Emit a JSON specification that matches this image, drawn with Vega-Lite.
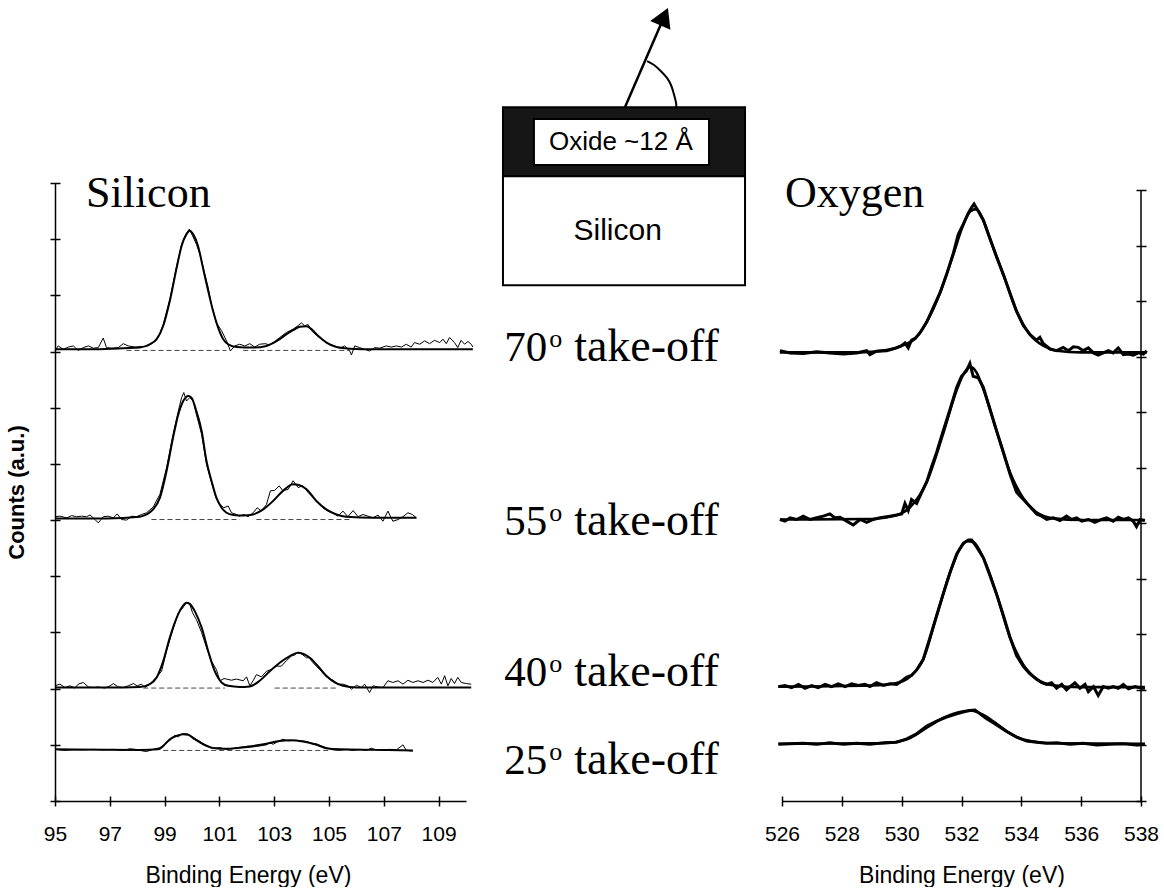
{
  "$schema": "https://vega.github.io/schema/vega-lite/v6.json",
  "autosize": "pad",
  "padding": {"left": 5, "top": 7, "right": 0, "bottom": 0},
  "background": "white",
  "spacing": 0,
  "bounds": "flush",
  "config": {
    "view": {"stroke": null},
    "axis": {
      "grid": false,
      "domainColor": "black",
      "tickColor": "black",
      "labelColor": "black",
      "titleColor": "black",
      "domainWidth": 1.5,
      "tickWidth": 1.5,
      "labelFont": "Liberation Sans",
      "titleFont": "Liberation Sans",
      "labelFlush": false
    }
  },
  "resolve": {"scale": {"x": "independent", "y": "independent"}},
  "datasets": {
    "si_data": [
      {"angle":70,"energy":95.00,"counts":8.02},{"angle":70,"energy":95.12,"counts":8.10},{"angle":70,"energy":95.30,"counts":8.04},{"angle":70,"energy":95.49,"counts":8.08},{"angle":70,"energy":95.67,"counts":8.10},{"angle":70,"energy":95.85,"counts":8.02},{"angle":70,"energy":96.03,"counts":8.07},{"angle":70,"energy":96.22,"counts":8.10},{"angle":70,"energy":96.40,"counts":8.06},{"angle":70,"energy":96.58,"counts":8.07},{"angle":70,"energy":96.76,"counts":8.24},{"angle":70,"energy":96.88,"counts":8.07},{"angle":70,"energy":97.07,"counts":8.06},{"angle":70,"energy":97.31,"counts":8.07},{"angle":70,"energy":97.49,"counts":8.14},{"angle":70,"energy":97.67,"counts":8.10},{"angle":70,"energy":97.92,"counts":8.08},{"angle":70,"energy":98.16,"counts":8.09},{"angle":70,"energy":98.40,"counts":8.10},{"angle":70,"energy":98.58,"counts":8.16},{"angle":70,"energy":98.77,"counts":8.25},{"angle":70,"energy":98.95,"counts":8.48},{"angle":70,"energy":99.19,"counts":8.93},{"angle":70,"energy":99.44,"counts":9.52},{"angle":70,"energy":99.62,"counts":9.91},{"angle":70,"energy":99.78,"counts":10.09},{"angle":70,"energy":99.90,"counts":10.18},{"angle":70,"energy":100.02,"counts":10.06},{"angle":70,"energy":100.16,"counts":9.91},{"angle":70,"energy":100.29,"counts":9.73},{"angle":70,"energy":100.47,"counts":9.37},{"angle":70,"energy":100.59,"counts":9.14},{"angle":70,"energy":100.71,"counts":8.84},{"angle":70,"energy":100.89,"counts":8.51},{"angle":70,"energy":101.08,"counts":8.37},{"angle":70,"energy":101.26,"counts":8.19},{"angle":70,"energy":101.40,"counts":8.01},{"angle":70,"energy":101.56,"counts":8.10},{"angle":70,"energy":101.74,"counts":8.13},{"angle":70,"energy":101.93,"counts":8.10},{"angle":70,"energy":102.11,"counts":8.14},{"angle":70,"energy":102.29,"counts":8.08},{"angle":70,"energy":102.47,"counts":8.13},{"angle":70,"energy":102.66,"counts":8.14},{"angle":70,"energy":102.84,"counts":8.12},{"angle":70,"energy":103.02,"counts":8.18},{"angle":70,"energy":103.20,"counts":8.25},{"angle":70,"energy":103.45,"counts":8.34},{"angle":70,"energy":103.69,"counts":8.40},{"angle":70,"energy":103.87,"counts":8.46},{"angle":70,"energy":103.99,"counts":8.51},{"angle":70,"energy":104.11,"counts":8.46},{"angle":70,"energy":104.24,"counts":8.48},{"angle":70,"energy":104.36,"counts":8.37},{"angle":70,"energy":104.54,"counts":8.29},{"angle":70,"energy":104.78,"counts":8.20},{"angle":70,"energy":105.03,"counts":8.13},{"angle":70,"energy":105.21,"counts":8.10},{"angle":70,"energy":105.39,"counts":8.06},{"angle":70,"energy":105.57,"counts":8.10},{"angle":70,"energy":105.75,"counts":8.02},{"angle":70,"energy":105.82,"counts":7.94},{"angle":70,"energy":105.94,"counts":8.10},{"angle":70,"energy":106.12,"counts":8.07},{"angle":70,"energy":106.30,"counts":8.04},{"angle":70,"energy":106.48,"counts":8.01},{"angle":70,"energy":106.67,"counts":8.07},{"angle":70,"energy":106.85,"counts":8.06},{"angle":70,"energy":107.09,"counts":8.10},{"angle":70,"energy":107.27,"counts":8.08},{"angle":70,"energy":107.46,"counts":8.10},{"angle":70,"energy":107.64,"counts":8.08},{"angle":70,"energy":107.82,"counts":8.13},{"angle":70,"energy":108.00,"counts":8.08},{"angle":70,"energy":108.12,"counts":8.16},{"angle":70,"energy":108.31,"counts":8.13},{"angle":70,"energy":108.49,"counts":8.19},{"angle":70,"energy":108.67,"counts":8.14},{"angle":70,"energy":108.85,"counts":8.20},{"angle":70,"energy":109.04,"counts":8.16},{"angle":70,"energy":109.16,"counts":8.22},{"angle":70,"energy":109.28,"counts":8.14},{"angle":70,"energy":109.40,"counts":8.25},{"angle":70,"energy":109.58,"counts":8.16},{"angle":70,"energy":109.70,"counts":8.07},{"angle":70,"energy":109.82,"counts":8.20},{"angle":70,"energy":109.95,"counts":8.13},{"angle":70,"energy":110.07,"counts":8.18},{"angle":70,"energy":110.19,"counts":8.13},{"angle":70,"energy":110.25,"counts":8.08},
      {"angle":55,"energy":95.00,"counts":5.06},{"angle":55,"energy":95.18,"counts":5.07},{"angle":55,"energy":95.43,"counts":5.04},{"angle":55,"energy":95.61,"counts":5.08},{"angle":55,"energy":95.79,"counts":5.06},{"angle":55,"energy":95.97,"counts":5.07},{"angle":55,"energy":96.15,"counts":5.06},{"angle":55,"energy":96.28,"counts":5.09},{"angle":55,"energy":96.46,"counts":5.01},{"angle":55,"energy":96.58,"counts":4.95},{"angle":55,"energy":96.76,"counts":5.06},{"angle":55,"energy":96.94,"counts":5.07},{"angle":55,"energy":97.13,"counts":5.04},{"angle":55,"energy":97.27,"counts":5.11},{"angle":55,"energy":97.43,"counts":5.01},{"angle":55,"energy":97.61,"counts":5.00},{"angle":55,"energy":97.80,"counts":5.07},{"angle":55,"energy":97.98,"counts":5.06},{"angle":55,"energy":98.16,"counts":5.10},{"angle":55,"energy":98.34,"counts":5.13},{"angle":55,"energy":98.58,"counts":5.23},{"angle":55,"energy":98.83,"counts":5.46},{"angle":55,"energy":99.07,"counts":5.93},{"angle":55,"energy":99.31,"counts":6.53},{"angle":55,"energy":99.50,"counts":6.94},{"angle":55,"energy":99.62,"counts":7.18},{"angle":55,"energy":99.70,"counts":7.27},{"angle":55,"energy":99.80,"counts":7.12},{"angle":55,"energy":99.92,"counts":7.18},{"angle":55,"energy":100.04,"counts":7.12},{"angle":55,"energy":100.16,"counts":6.88},{"angle":55,"energy":100.35,"counts":6.53},{"angle":55,"energy":100.53,"counts":5.99},{"angle":55,"energy":100.71,"counts":5.67},{"angle":55,"energy":100.87,"counts":5.40},{"angle":55,"energy":101.02,"counts":5.28},{"angle":55,"energy":101.16,"counts":5.22},{"angle":55,"energy":101.32,"counts":5.25},{"angle":55,"energy":101.44,"counts":5.13},{"angle":55,"energy":101.62,"counts":5.10},{"angle":55,"energy":101.74,"counts":5.07},{"angle":55,"energy":101.89,"counts":5.10},{"angle":55,"energy":102.05,"counts":5.06},{"angle":55,"energy":102.23,"counts":5.13},{"angle":55,"energy":102.38,"counts":5.22},{"angle":55,"energy":102.53,"counts":5.16},{"angle":55,"energy":102.72,"counts":5.28},{"angle":55,"energy":102.86,"counts":5.52},{"angle":55,"energy":103.02,"counts":5.53},{"angle":55,"energy":103.18,"counts":5.61},{"angle":55,"energy":103.32,"counts":5.52},{"angle":55,"energy":103.51,"counts":5.55},{"angle":55,"energy":103.69,"counts":5.70},{"angle":55,"energy":103.87,"counts":5.58},{"angle":55,"energy":104.05,"counts":5.61},{"angle":55,"energy":104.24,"counts":5.49},{"angle":55,"energy":104.42,"counts":5.40},{"angle":55,"energy":104.60,"counts":5.31},{"angle":55,"energy":104.78,"counts":5.22},{"angle":55,"energy":104.96,"counts":5.16},{"angle":55,"energy":105.15,"counts":5.13},{"angle":55,"energy":105.33,"counts":5.07},{"angle":55,"energy":105.51,"counts":5.16},{"angle":55,"energy":105.69,"counts":5.06},{"angle":55,"energy":105.88,"counts":5.17},{"angle":55,"energy":106.06,"counts":5.06},{"angle":55,"energy":106.24,"counts":5.10},{"angle":55,"energy":106.42,"counts":5.07},{"angle":55,"energy":106.61,"counts":5.04},{"angle":55,"energy":106.79,"counts":5.09},{"angle":55,"energy":106.97,"counts":4.98},{"angle":55,"energy":107.15,"counts":5.16},{"angle":55,"energy":107.33,"counts":4.98},{"angle":55,"energy":107.52,"counts":5.01},{"angle":55,"energy":107.70,"counts":5.06},{"angle":55,"energy":107.88,"counts":5.13},{"angle":55,"energy":108.04,"counts":5.10},{"angle":55,"energy":108.19,"counts":5.04},
      {"angle":40,"energy":95.00,"counts":2.05},{"angle":40,"energy":95.18,"counts":2.08},{"angle":40,"energy":95.36,"counts":2.02},{"angle":40,"energy":95.55,"counts":2.05},{"angle":40,"energy":95.73,"counts":2.01},{"angle":40,"energy":95.85,"counts":2.08},{"angle":40,"energy":96.03,"counts":2.11},{"angle":40,"energy":96.22,"counts":2.03},{"angle":40,"energy":96.40,"counts":2.02},{"angle":40,"energy":96.58,"counts":2.03},{"angle":40,"energy":96.82,"counts":2.01},{"angle":40,"energy":97.01,"counts":2.05},{"angle":40,"energy":97.13,"counts":2.09},{"angle":40,"energy":97.31,"counts":2.03},{"angle":40,"energy":97.49,"counts":2.02},{"angle":40,"energy":97.67,"counts":2.05},{"angle":40,"energy":97.86,"counts":2.09},{"angle":40,"energy":98.00,"counts":2.05},{"angle":40,"energy":98.16,"counts":2.08},{"angle":40,"energy":98.28,"counts":2.02},{"angle":40,"energy":98.46,"counts":2.08},{"angle":40,"energy":98.71,"counts":2.21},{"angle":40,"energy":98.89,"counts":2.31},{"angle":40,"energy":99.07,"counts":2.67},{"angle":40,"energy":99.31,"counts":3.06},{"angle":40,"energy":99.50,"counts":3.35},{"angle":40,"energy":99.62,"counts":3.41},{"angle":40,"energy":99.80,"counts":3.53},{"angle":40,"energy":99.92,"counts":3.50},{"angle":40,"energy":100.02,"counts":3.35},{"angle":40,"energy":100.16,"counts":3.23},{"angle":40,"energy":100.35,"counts":3.00},{"angle":40,"energy":100.53,"counts":2.73},{"angle":40,"energy":100.71,"counts":2.49},{"angle":40,"energy":100.89,"counts":2.34},{"angle":40,"energy":101.02,"counts":2.14},{"angle":40,"energy":101.17,"counts":2.18},{"angle":40,"energy":101.26,"counts":2.17},{"angle":40,"energy":101.44,"counts":2.15},{"angle":40,"energy":101.62,"counts":2.17},{"angle":40,"energy":101.87,"counts":2.14},{"angle":40,"energy":101.99,"counts":2.21},{"angle":40,"energy":102.11,"counts":2.05},{"angle":40,"energy":102.23,"counts":2.14},{"angle":40,"energy":102.35,"counts":2.25},{"angle":40,"energy":102.53,"counts":2.21},{"angle":40,"energy":102.72,"counts":2.31},{"angle":40,"energy":102.90,"counts":2.34},{"angle":40,"energy":103.08,"counts":2.40},{"angle":40,"energy":103.26,"counts":2.40},{"angle":40,"energy":103.45,"counts":2.50},{"angle":40,"energy":103.63,"counts":2.58},{"angle":40,"energy":103.75,"counts":2.60},{"angle":40,"energy":103.87,"counts":2.65},{"angle":40,"energy":103.99,"counts":2.62},{"angle":40,"energy":104.18,"counts":2.55},{"angle":40,"energy":104.27,"counts":2.55},{"angle":40,"energy":104.42,"counts":2.46},{"angle":40,"energy":104.66,"counts":2.34},{"angle":40,"energy":104.90,"counts":2.21},{"angle":40,"energy":105.15,"counts":2.15},{"angle":40,"energy":105.33,"counts":2.08},{"angle":40,"energy":105.51,"counts":2.08},{"angle":40,"energy":105.69,"counts":2.05},{"angle":40,"energy":105.82,"counts":1.99},{"angle":40,"energy":106.00,"counts":2.06},{"angle":40,"energy":106.18,"counts":2.02},{"angle":40,"energy":106.30,"counts":2.08},{"angle":40,"energy":106.48,"counts":1.93},{"angle":40,"energy":106.61,"counts":2.05},{"angle":40,"energy":106.79,"counts":2.03},{"angle":40,"energy":106.97,"counts":2.02},{"angle":40,"energy":107.15,"counts":2.14},{"angle":40,"energy":107.33,"counts":2.11},{"angle":40,"energy":107.52,"counts":2.14},{"angle":40,"energy":107.70,"counts":2.08},{"angle":40,"energy":107.88,"counts":2.15},{"angle":40,"energy":108.06,"counts":2.11},{"angle":40,"energy":108.25,"counts":2.14},{"angle":40,"energy":108.43,"counts":2.11},{"angle":40,"energy":108.61,"counts":2.15},{"angle":40,"energy":108.79,"counts":2.11},{"angle":40,"energy":108.97,"counts":2.20},{"angle":40,"energy":109.10,"counts":2.08},{"angle":40,"energy":109.22,"counts":2.23},{"angle":40,"energy":109.34,"counts":2.05},{"angle":40,"energy":109.46,"counts":2.18},{"angle":40,"energy":109.58,"counts":2.09},{"angle":40,"energy":109.70,"counts":2.20},{"angle":40,"energy":109.83,"counts":2.11},{"angle":40,"energy":110.01,"counts":2.09},{"angle":40,"energy":110.19,"counts":2.08},
      {"angle":25,"energy":95.00,"counts":0.92},{"angle":25,"energy":95.30,"counts":0.90},{"angle":25,"energy":95.67,"counts":0.91},{"angle":25,"energy":96.03,"counts":0.91},{"angle":25,"energy":96.40,"counts":0.92},{"angle":25,"energy":96.76,"counts":0.91},{"angle":25,"energy":97.13,"counts":0.92},{"angle":25,"energy":97.49,"counts":0.90},{"angle":25,"energy":97.73,"counts":0.93},{"angle":25,"energy":97.92,"counts":0.92},{"angle":25,"energy":98.10,"counts":0.90},{"angle":25,"energy":98.34,"counts":0.88},{"angle":25,"energy":98.58,"counts":0.92},{"angle":25,"energy":98.83,"counts":0.95},{"angle":25,"energy":99.01,"counts":1.01},{"angle":25,"energy":99.25,"counts":1.10},{"angle":25,"energy":99.37,"counts":1.17},{"angle":25,"energy":99.50,"counts":1.14},{"angle":25,"energy":99.62,"counts":1.19},{"angle":25,"energy":99.74,"counts":1.20},{"angle":25,"energy":99.86,"counts":1.19},{"angle":25,"energy":100.04,"counts":1.13},{"angle":25,"energy":100.29,"counts":1.06},{"angle":25,"energy":100.53,"counts":0.98},{"angle":25,"energy":100.71,"counts":0.94},{"angle":25,"energy":101.02,"counts":0.95},{"angle":25,"energy":101.26,"counts":0.92},{"angle":25,"energy":101.62,"counts":0.94},{"angle":25,"energy":101.99,"counts":0.95},{"angle":25,"energy":102.35,"counts":0.97},{"angle":25,"energy":102.72,"counts":1.00},{"angle":25,"energy":102.84,"counts":1.04},{"angle":25,"energy":102.96,"counts":1.01},{"angle":25,"energy":103.14,"counts":1.06},{"angle":25,"energy":103.32,"counts":1.10},{"angle":25,"energy":103.51,"counts":1.07},{"angle":25,"energy":103.75,"counts":1.08},{"angle":25,"energy":103.99,"counts":1.07},{"angle":25,"energy":104.18,"counts":1.06},{"angle":25,"energy":104.42,"counts":1.01},{"angle":25,"energy":104.54,"counts":1.02},{"angle":25,"energy":104.72,"counts":0.98},{"angle":25,"energy":104.90,"counts":0.95},{"angle":25,"energy":105.15,"counts":0.91},{"angle":25,"energy":105.39,"counts":0.90},{"angle":25,"energy":105.63,"counts":0.92},{"angle":25,"energy":105.88,"counts":0.90},{"angle":25,"energy":106.12,"counts":0.92},{"angle":25,"energy":106.36,"counts":0.90},{"angle":25,"energy":106.54,"counts":0.94},{"angle":25,"energy":106.73,"counts":0.91},{"angle":25,"energy":106.97,"counts":0.90},{"angle":25,"energy":107.21,"counts":0.92},{"angle":25,"energy":107.46,"counts":0.91},{"angle":25,"energy":107.70,"counts":1.00},{"angle":25,"energy":107.82,"counts":0.90},{"angle":25,"energy":108.06,"counts":0.89}
    ],
    "si_fit": [
      {"angle":70,"energy":95.00,"counts":8.04},{"angle":70,"energy":96.28,"counts":8.04},{"angle":70,"energy":97.49,"counts":8.06},{"angle":70,"energy":98.10,"counts":8.07},{"angle":70,"energy":98.46,"counts":8.13},{"angle":70,"energy":98.71,"counts":8.22},{"angle":70,"energy":98.95,"counts":8.46},{"angle":70,"energy":99.19,"counts":8.90},{"angle":70,"energy":99.44,"counts":9.49},{"angle":70,"energy":99.62,"counts":9.88},{"angle":70,"energy":99.80,"counts":10.09},{"angle":70,"energy":99.92,"counts":10.15},{"angle":70,"energy":100.04,"counts":10.09},{"angle":70,"energy":100.22,"counts":9.88},{"angle":70,"energy":100.41,"counts":9.47},{"angle":70,"energy":100.59,"counts":9.08},{"angle":70,"energy":100.77,"counts":8.72},{"angle":70,"energy":100.95,"counts":8.43},{"angle":70,"energy":101.14,"counts":8.22},{"angle":70,"energy":101.32,"counts":8.13},{"angle":70,"energy":101.62,"counts":8.08},{"angle":70,"energy":102.23,"counts":8.07},{"angle":70,"energy":102.72,"counts":8.10},{"angle":70,"energy":102.96,"counts":8.15},{"angle":70,"energy":103.20,"counts":8.22},{"angle":70,"energy":103.45,"counts":8.31},{"angle":70,"energy":103.69,"counts":8.38},{"angle":70,"energy":103.93,"counts":8.44},{"angle":70,"energy":104.18,"counts":8.45},{"angle":70,"energy":104.36,"counts":8.40},{"angle":70,"energy":104.60,"counts":8.28},{"angle":70,"energy":104.91,"counts":8.16},{"angle":70,"energy":105.27,"counts":8.08},{"angle":70,"energy":105.76,"counts":8.05},{"angle":70,"energy":106.60,"counts":8.04},{"angle":70,"energy":110.25,"counts":8.04},
      {"angle":55,"energy":95.00,"counts":5.03},{"angle":55,"energy":96.88,"counts":5.03},{"angle":55,"energy":98.10,"counts":5.06},{"angle":55,"energy":98.34,"counts":5.10},{"angle":55,"energy":98.58,"counts":5.19},{"angle":55,"energy":98.83,"counts":5.40},{"angle":55,"energy":99.07,"counts":5.87},{"angle":55,"energy":99.31,"counts":6.47},{"angle":55,"energy":99.50,"counts":6.88},{"angle":55,"energy":99.68,"counts":7.12},{"angle":55,"energy":99.86,"counts":7.21},{"angle":55,"energy":99.98,"counts":7.18},{"angle":55,"energy":100.16,"counts":6.94},{"angle":55,"energy":100.35,"counts":6.59},{"angle":55,"energy":100.53,"counts":6.05},{"angle":55,"energy":100.71,"counts":5.70},{"angle":55,"energy":100.89,"counts":5.40},{"angle":55,"energy":101.08,"counts":5.22},{"angle":55,"energy":101.26,"counts":5.13},{"angle":55,"energy":101.50,"counts":5.09},{"angle":55,"energy":101.87,"counts":5.08},{"angle":55,"energy":102.23,"counts":5.10},{"angle":55,"energy":102.60,"counts":5.19},{"angle":55,"energy":102.96,"counts":5.34},{"angle":55,"energy":103.32,"counts":5.52},{"angle":55,"energy":103.69,"counts":5.64},{"angle":55,"energy":103.87,"counts":5.63},{"angle":55,"energy":104.18,"counts":5.55},{"angle":55,"energy":104.54,"counts":5.34},{"angle":55,"energy":104.90,"counts":5.19},{"angle":55,"energy":105.27,"counts":5.10},{"angle":55,"energy":105.63,"counts":5.06},{"angle":55,"energy":106.61,"counts":5.04},{"angle":55,"energy":108.19,"counts":5.04},
      {"angle":40,"energy":95.00,"counts":2.02},{"angle":40,"energy":96.88,"counts":2.02},{"angle":40,"energy":98.10,"counts":2.03},{"angle":40,"energy":98.46,"counts":2.08},{"angle":40,"energy":98.71,"counts":2.20},{"angle":40,"energy":98.95,"counts":2.49},{"angle":40,"energy":99.19,"counts":2.91},{"angle":40,"energy":99.44,"counts":3.26},{"angle":40,"energy":99.62,"counts":3.44},{"angle":40,"energy":99.80,"counts":3.53},{"angle":40,"energy":99.92,"counts":3.51},{"angle":40,"energy":100.10,"counts":3.38},{"angle":40,"energy":100.35,"counts":3.09},{"angle":40,"energy":100.59,"counts":2.67},{"angle":40,"energy":100.83,"counts":2.31},{"angle":40,"energy":101.08,"counts":2.11},{"angle":40,"energy":101.32,"counts":2.05},{"angle":40,"energy":101.74,"counts":2.03},{"angle":40,"energy":102.11,"counts":2.04},{"angle":40,"energy":102.47,"counts":2.14},{"angle":40,"energy":102.84,"counts":2.31},{"angle":40,"energy":103.20,"counts":2.46},{"angle":40,"energy":103.57,"counts":2.58},{"angle":40,"energy":103.87,"counts":2.64},{"angle":40,"energy":104.05,"counts":2.62},{"angle":40,"energy":104.30,"counts":2.55},{"angle":40,"energy":104.60,"counts":2.40},{"angle":40,"energy":104.90,"counts":2.23},{"angle":40,"energy":105.21,"counts":2.11},{"angle":40,"energy":105.51,"counts":2.05},{"angle":40,"energy":106.00,"counts":2.02},{"angle":40,"energy":110.19,"counts":2.02},
      {"angle":25,"energy":95.00,"counts":0.92},{"angle":25,"energy":98.10,"counts":0.91},{"angle":25,"energy":98.77,"counts":0.92},{"angle":25,"energy":98.95,"counts":0.98},{"angle":25,"energy":99.19,"counts":1.10},{"angle":25,"energy":99.44,"counts":1.16},{"angle":25,"energy":99.68,"counts":1.19},{"angle":25,"energy":99.86,"counts":1.18},{"angle":25,"energy":100.10,"counts":1.10},{"angle":25,"energy":100.41,"counts":1.01},{"angle":25,"energy":100.71,"counts":0.95},{"angle":25,"energy":101.02,"counts":0.93},{"angle":25,"energy":101.38,"counts":0.93},{"angle":25,"energy":101.74,"counts":0.95},{"angle":25,"energy":102.23,"counts":0.98},{"angle":25,"energy":102.72,"counts":1.02},{"angle":25,"energy":103.20,"counts":1.07},{"angle":25,"energy":103.57,"counts":1.08},{"angle":25,"energy":104.05,"counts":1.06},{"angle":25,"energy":104.42,"counts":1.02},{"angle":25,"energy":104.66,"counts":0.98},{"angle":25,"energy":104.90,"counts":0.94},{"angle":25,"energy":105.39,"counts":0.92},{"angle":25,"energy":106.61,"counts":0.91},{"angle":25,"energy":108.06,"counts":0.90}
    ],
    "si_base": [
      {"angle":70,"start":97.61,"end":101.26,"counts":8.02},{"angle":70,"start":101.87,"end":105.75,"counts":8.02},
      {"angle":55,"start":98.52,"end":101.74,"counts":5.01},{"angle":55,"start":102.35,"end":105.75,"counts":5.01},
      {"angle":40,"start":98.22,"end":101.20,"counts":2.01},{"angle":40,"start":103.02,"end":105.27,"counts":2.01},
      {"angle":25,"start":98.95,"end":105.03,"counts":0.90}
    ],
    "o_data": [
      {"angle":70,"energy":525.93,"counts":8.11},{"angle":70,"energy":526.27,"counts":8.07},{"angle":70,"energy":526.71,"counts":8.06},{"angle":70,"energy":527.16,"counts":8.09},{"angle":70,"energy":527.60,"counts":8.07},{"angle":70,"energy":528.05,"counts":8.05},{"angle":70,"energy":528.50,"counts":8.07},{"angle":70,"energy":528.83,"counts":8.11},{"angle":70,"energy":528.94,"counts":8.04},{"angle":70,"energy":529.16,"counts":8.10},{"angle":70,"energy":529.50,"counts":8.11},{"angle":70,"energy":529.83,"counts":8.16},{"angle":70,"energy":530.00,"counts":8.20},{"angle":70,"energy":530.11,"counts":8.25},{"angle":70,"energy":530.22,"counts":8.16},{"angle":70,"energy":530.33,"counts":8.30},{"angle":70,"energy":530.45,"counts":8.33},{"angle":70,"energy":530.61,"counts":8.43},{"angle":70,"energy":530.84,"counts":8.63},{"angle":70,"energy":531.06,"counts":8.89},{"angle":70,"energy":531.28,"counts":9.15},{"angle":70,"energy":531.50,"counts":9.48},{"angle":70,"energy":531.73,"counts":9.87},{"angle":70,"energy":531.89,"counts":10.20},{"angle":70,"energy":532.06,"counts":10.39},{"angle":70,"energy":532.23,"counts":10.59},{"angle":70,"energy":532.34,"counts":10.69},{"angle":70,"energy":532.42,"counts":10.75},{"angle":70,"energy":532.56,"counts":10.62},{"angle":70,"energy":532.73,"counts":10.46},{"angle":70,"energy":532.95,"counts":10.13},{"angle":70,"energy":533.17,"counts":9.80},{"angle":70,"energy":533.40,"counts":9.48},{"angle":70,"energy":533.62,"counts":9.15},{"angle":70,"energy":533.84,"counts":8.82},{"angle":70,"energy":534.07,"counts":8.56},{"angle":70,"energy":534.29,"counts":8.40},{"angle":70,"energy":534.51,"counts":8.30},{"angle":70,"energy":534.62,"counts":8.35},{"angle":70,"energy":534.73,"counts":8.24},{"angle":70,"energy":534.96,"counts":8.14},{"angle":70,"energy":535.18,"counts":8.11},{"angle":70,"energy":535.40,"counts":8.17},{"angle":70,"energy":535.57,"counts":8.11},{"angle":70,"energy":535.74,"counts":8.18},{"angle":70,"energy":535.90,"counts":8.17},{"angle":70,"energy":536.07,"counts":8.11},{"angle":70,"energy":536.24,"counts":8.16},{"angle":70,"energy":536.41,"counts":8.07},{"angle":70,"energy":536.57,"counts":8.03},{"angle":70,"energy":536.74,"counts":8.07},{"angle":70,"energy":536.91,"counts":8.11},{"angle":70,"energy":537.07,"counts":8.07},{"angle":70,"energy":537.24,"counts":8.16},{"angle":70,"energy":537.41,"counts":8.04},{"angle":70,"energy":537.58,"counts":8.05},{"angle":70,"energy":537.74,"counts":8.03},{"angle":70,"energy":537.91,"counts":8.07},{"angle":70,"energy":538.08,"counts":8.05},{"angle":70,"energy":538.19,"counts":8.11},
      {"angle":55,"energy":525.93,"counts":5.07},{"angle":55,"energy":526.10,"counts":5.04},{"angle":55,"energy":526.27,"counts":5.10},{"angle":55,"energy":526.49,"counts":5.07},{"angle":55,"energy":526.71,"counts":5.13},{"angle":55,"energy":526.94,"counts":5.07},{"angle":55,"energy":527.16,"counts":5.10},{"angle":55,"energy":527.38,"counts":5.13},{"angle":55,"energy":527.60,"counts":5.17},{"angle":55,"energy":527.77,"counts":5.10},{"angle":55,"energy":527.94,"counts":5.11},{"angle":55,"energy":528.16,"counts":5.04},{"angle":55,"energy":528.38,"counts":4.97},{"angle":55,"energy":528.61,"counts":5.07},{"angle":55,"energy":528.83,"counts":5.02},{"angle":55,"energy":529.05,"counts":5.07},{"angle":55,"energy":529.28,"counts":5.10},{"angle":55,"energy":529.61,"counts":5.13},{"angle":55,"energy":529.83,"counts":5.15},{"angle":55,"energy":530.00,"counts":5.17},{"angle":55,"energy":530.11,"counts":5.36},{"angle":55,"energy":530.22,"counts":5.23},{"angle":55,"energy":530.33,"counts":5.43},{"angle":55,"energy":530.50,"counts":5.36},{"angle":55,"energy":530.67,"counts":5.56},{"angle":55,"energy":530.84,"counts":5.75},{"angle":55,"energy":531.00,"counts":6.02},{"angle":55,"energy":531.17,"counts":6.28},{"angle":55,"energy":531.39,"counts":6.67},{"angle":55,"energy":531.62,"counts":7.06},{"angle":55,"energy":531.84,"counts":7.45},{"angle":55,"energy":532.00,"counts":7.65},{"angle":55,"energy":532.17,"counts":7.75},{"angle":55,"energy":532.28,"counts":7.88},{"angle":55,"energy":532.39,"counts":7.65},{"angle":55,"energy":532.56,"counts":7.62},{"angle":55,"energy":532.73,"counts":7.45},{"angle":55,"energy":532.95,"counts":7.06},{"angle":55,"energy":533.17,"counts":6.67},{"angle":55,"energy":533.40,"counts":6.28},{"angle":55,"energy":533.62,"counts":5.89},{"angle":55,"energy":533.84,"counts":5.56},{"angle":55,"energy":534.07,"counts":5.43},{"angle":55,"energy":534.29,"counts":5.30},{"angle":55,"energy":534.51,"counts":5.17},{"angle":55,"energy":534.68,"counts":5.13},{"angle":55,"energy":534.85,"counts":5.07},{"angle":55,"energy":535.07,"counts":5.10},{"angle":55,"energy":535.29,"counts":5.05},{"angle":55,"energy":535.51,"counts":5.13},{"angle":55,"energy":535.68,"counts":5.07},{"angle":55,"energy":535.85,"counts":5.10},{"angle":55,"energy":536.02,"counts":5.04},{"angle":55,"energy":536.24,"counts":5.07},{"angle":55,"energy":536.46,"counts":5.02},{"angle":55,"energy":536.68,"counts":5.07},{"angle":55,"energy":536.85,"counts":5.10},{"angle":55,"energy":537.07,"counts":5.04},{"angle":55,"energy":537.24,"counts":5.11},{"angle":55,"energy":537.41,"counts":5.07},{"angle":55,"energy":537.58,"counts":5.10},{"angle":55,"energy":537.74,"counts":5.04},{"angle":55,"energy":537.85,"counts":4.94},{"angle":55,"energy":537.97,"counts":5.07},{"angle":55,"energy":538.13,"counts":5.05},
      {"angle":40,"energy":525.88,"counts":2.06},{"angle":40,"energy":526.10,"counts":2.08},{"angle":40,"energy":526.32,"counts":2.04},{"angle":40,"energy":526.55,"counts":2.10},{"angle":40,"energy":526.77,"counts":2.03},{"angle":40,"energy":526.99,"counts":2.08},{"angle":40,"energy":527.21,"counts":2.04},{"angle":40,"energy":527.44,"counts":2.10},{"angle":40,"energy":527.66,"counts":2.06},{"angle":40,"energy":527.88,"counts":2.11},{"angle":40,"energy":528.11,"counts":2.06},{"angle":40,"energy":528.33,"counts":2.11},{"angle":40,"energy":528.55,"counts":2.08},{"angle":40,"energy":528.77,"counts":2.10},{"angle":40,"energy":528.94,"counts":2.06},{"angle":40,"energy":529.16,"counts":2.13},{"angle":40,"energy":529.39,"counts":2.08},{"angle":40,"energy":529.61,"counts":2.11},{"angle":40,"energy":529.83,"counts":2.10},{"angle":40,"energy":530.00,"counts":2.16},{"angle":40,"energy":530.17,"counts":2.23},{"angle":40,"energy":530.33,"counts":2.26},{"angle":40,"energy":530.50,"counts":2.36},{"angle":40,"energy":530.72,"counts":2.55},{"angle":40,"energy":530.95,"counts":2.95},{"angle":40,"energy":531.17,"counts":3.34},{"angle":40,"energy":531.39,"counts":3.73},{"angle":40,"energy":531.62,"counts":4.12},{"angle":40,"energy":531.84,"counts":4.45},{"angle":40,"energy":532.06,"counts":4.64},{"angle":40,"energy":532.23,"counts":4.70},{"angle":40,"energy":532.34,"counts":4.70},{"angle":40,"energy":532.50,"counts":4.58},{"angle":40,"energy":532.73,"counts":4.38},{"angle":40,"energy":532.95,"counts":4.06},{"angle":40,"energy":533.17,"counts":3.73},{"angle":40,"energy":533.40,"counts":3.34},{"angle":40,"energy":533.62,"counts":2.95},{"angle":40,"energy":533.84,"counts":2.62},{"angle":40,"energy":534.07,"counts":2.42},{"angle":40,"energy":534.29,"counts":2.29},{"angle":40,"energy":534.51,"counts":2.19},{"angle":40,"energy":534.68,"counts":2.13},{"angle":40,"energy":534.85,"counts":2.10},{"angle":40,"energy":535.01,"counts":2.13},{"angle":40,"energy":535.18,"counts":2.03},{"angle":40,"energy":535.35,"counts":2.10},{"angle":40,"energy":535.51,"counts":2.00},{"angle":40,"energy":535.63,"counts":2.06},{"angle":40,"energy":535.79,"counts":2.13},{"angle":40,"energy":535.96,"counts":2.03},{"angle":40,"energy":536.13,"counts":2.10},{"angle":40,"energy":536.24,"counts":1.97},{"angle":40,"energy":536.41,"counts":2.06},{"angle":40,"energy":536.57,"counts":1.90},{"angle":40,"energy":536.74,"counts":2.06},{"angle":40,"energy":536.91,"counts":2.03},{"angle":40,"energy":537.07,"counts":2.06},{"angle":40,"energy":537.24,"counts":2.03},{"angle":40,"energy":537.41,"counts":2.10},{"angle":40,"energy":537.58,"counts":2.02},{"angle":40,"energy":537.80,"counts":2.06},{"angle":40,"energy":538.02,"counts":2.03},{"angle":40,"energy":538.13,"counts":2.03},
      {"angle":25,"energy":525.88,"counts":1.02},{"angle":25,"energy":526.27,"counts":1.03},{"angle":25,"energy":526.71,"counts":1.04},{"angle":25,"energy":527.16,"counts":1.02},{"angle":25,"energy":527.60,"counts":1.05},{"angle":25,"energy":528.05,"counts":1.02},{"angle":25,"energy":528.50,"counts":1.04},{"angle":25,"energy":528.94,"counts":1.02},{"angle":25,"energy":529.39,"counts":1.05},{"angle":25,"energy":529.83,"counts":1.06},{"angle":25,"energy":530.17,"counts":1.12},{"angle":25,"energy":530.50,"counts":1.21},{"angle":25,"energy":530.84,"counts":1.35},{"angle":25,"energy":531.17,"counts":1.44},{"angle":25,"energy":531.50,"counts":1.51},{"angle":25,"energy":531.84,"counts":1.57},{"angle":25,"energy":532.12,"counts":1.61},{"angle":25,"energy":532.28,"counts":1.63},{"angle":25,"energy":532.45,"counts":1.64},{"angle":25,"energy":532.62,"counts":1.57},{"angle":25,"energy":532.84,"counts":1.48},{"angle":25,"energy":533.06,"counts":1.41},{"angle":25,"energy":533.29,"counts":1.33},{"angle":25,"energy":533.51,"counts":1.25},{"angle":25,"energy":533.84,"counts":1.15},{"angle":25,"energy":534.18,"counts":1.08},{"angle":25,"energy":534.51,"counts":1.06},{"angle":25,"energy":534.85,"counts":1.04},{"angle":25,"energy":535.18,"counts":1.05},{"angle":25,"energy":535.63,"counts":1.02},{"angle":25,"energy":536.07,"counts":1.04},{"angle":25,"energy":536.52,"counts":1.01},{"angle":25,"energy":536.96,"counts":1.02},{"angle":25,"energy":537.41,"counts":1.03},{"angle":25,"energy":537.85,"counts":1.01},{"angle":25,"energy":538.13,"counts":1.02}
    ],
    "o_fit": [
      {"angle":70,"energy":525.93,"counts":8.08},{"angle":70,"energy":528.5,"counts":8.08},{"angle":70,"energy":529.5,"counts":8.12},{"angle":70,"energy":530.0,"counts":8.20},{"angle":70,"energy":530.45,"counts":8.33},{"angle":70,"energy":530.84,"counts":8.63},{"angle":70,"energy":531.28,"counts":9.15},{"angle":70,"energy":531.73,"counts":9.85},{"angle":70,"energy":532.06,"counts":10.38},{"angle":70,"energy":532.3,"counts":10.62},{"angle":70,"energy":532.5,"counts":10.66},{"angle":70,"energy":532.73,"counts":10.46},{"angle":70,"energy":532.95,"counts":10.13},{"angle":70,"energy":533.4,"counts":9.48},{"angle":70,"energy":533.84,"counts":8.82},{"angle":70,"energy":534.29,"counts":8.40},{"angle":70,"energy":534.73,"counts":8.20},{"angle":70,"energy":535.18,"counts":8.11},{"angle":70,"energy":536.0,"counts":8.08},{"angle":70,"energy":538.19,"counts":8.08},
      {"angle":55,"energy":525.93,"counts":5.07},{"angle":55,"energy":529.0,"counts":5.08},{"angle":55,"energy":529.8,"counts":5.14},{"angle":55,"energy":530.3,"counts":5.30},{"angle":55,"energy":530.84,"counts":5.75},{"angle":55,"energy":531.39,"counts":6.62},{"angle":55,"energy":531.84,"counts":7.40},{"angle":55,"energy":532.1,"counts":7.72},{"angle":55,"energy":532.3,"counts":7.82},{"angle":55,"energy":532.5,"counts":7.72},{"angle":55,"energy":532.73,"counts":7.42},{"angle":55,"energy":533.17,"counts":6.67},{"angle":55,"energy":533.62,"counts":5.92},{"angle":55,"energy":534.07,"counts":5.45},{"angle":55,"energy":534.51,"counts":5.20},{"angle":55,"energy":535.07,"counts":5.09},{"angle":55,"energy":536.0,"counts":5.06},{"angle":55,"energy":538.13,"counts":5.06},
      {"angle":40,"energy":525.88,"counts":2.06},{"angle":40,"energy":529.0,"counts":2.08},{"angle":40,"energy":529.8,"counts":2.12},{"angle":40,"energy":530.3,"counts":2.25},{"angle":40,"energy":530.72,"counts":2.55},{"angle":40,"energy":531.17,"counts":3.34},{"angle":40,"energy":531.62,"counts":4.12},{"angle":40,"energy":531.95,"counts":4.55},{"angle":40,"energy":532.2,"counts":4.68},{"angle":40,"energy":532.4,"counts":4.66},{"angle":40,"energy":532.73,"counts":4.38},{"angle":40,"energy":533.17,"counts":3.73},{"angle":40,"energy":533.62,"counts":2.95},{"angle":40,"energy":534.07,"counts":2.45},{"angle":40,"energy":534.51,"counts":2.20},{"angle":40,"energy":535.0,"counts":2.09},{"angle":40,"energy":536.0,"counts":2.05},{"angle":40,"energy":538.13,"counts":2.05},
      {"angle":25,"energy":525.88,"counts":1.03},{"angle":25,"energy":529.4,"counts":1.04},{"angle":25,"energy":529.9,"counts":1.07},{"angle":25,"energy":530.3,"counts":1.14},{"angle":25,"energy":530.84,"counts":1.32},{"angle":25,"energy":531.4,"counts":1.50},{"angle":25,"energy":531.9,"counts":1.60},{"angle":25,"energy":532.3,"counts":1.63},{"angle":25,"energy":532.7,"counts":1.56},{"angle":25,"energy":533.1,"counts":1.42},{"angle":25,"energy":533.5,"counts":1.26},{"angle":25,"energy":533.9,"counts":1.14},{"angle":25,"energy":534.4,"counts":1.07},{"angle":25,"energy":535.0,"counts":1.04},{"angle":25,"energy":538.13,"counts":1.03}
    ],
    "takeoff": [
      {"angle":"70","pos":2.6,"level":7.84},
      {"angle":"55","pos":2.6,"level":4.73},
      {"angle":"40","pos":2.6,"level":2.05},
      {"angle":"25","pos":2.6,"level":0.48}
    ],
    "sample_layers": [
      {"part":"oxide","left":1.17,"right":8.83,"bottom":11.12,"top":12.35},
      {"part":"silicon","left":1.17,"right":8.83,"bottom":9.18,"top":11.12},
      {"part":"window","left":2.15,"right":7.69,"bottom":11.32,"top":12.14}
    ],
    "sample_text": [
      {"label":"Oxide ~12 Å","px":4.9,"py":11.73,"size":26},
      {"label":"Silicon","px":4.8,"py":10.15,"size":30}
    ],
    "emission_arrow": [
      {"step":1,"px":5.03,"py":12.35},
      {"step":2,"px":6.27,"py":13.96}
    ],
    "angle_arc": [
      {"step":1,"px":5.73,"py":13.17},
      {"step":2,"px":5.95,"py":13.10},
      {"step":3,"px":6.17,"py":12.99},
      {"step":4,"px":6.36,"py":12.87},
      {"step":5,"px":6.49,"py":12.74},
      {"step":6,"px":6.58,"py":12.58},
      {"step":7,"px":6.65,"py":12.42},
      {"step":8,"px":6.65,"py":12.35}
    ]
  },
  "hconcat": [
    {
      "width": 411,
      "height": 618,
      "resolve": {"axis": {"x": "independent", "y": "independent"}},
      "layer": [
        {
          "data": {"name": "si_fit"},
          "mark": {"type": "line", "interpolate": "monotone", "color": "black", "strokeWidth": 2},
          "encoding": {
            "x": {"field": "energy", "type": "quantitative", "scale": {"domain": [95, 110], "nice": false, "zero": false},
                  "axis": {"orient": "bottom", "values": [95, 97, 99, 101, 103, 105, 107, 109], "ticks": false, "tickSize": 0,
                           "labelFontSize": 21, "labelPadding": 22, "title": "Binding Energy (eV)", "titleFontSize": 23,
                           "titleFontWeight": "normal", "titlePadding": 20, "titleX": 193}},
            "y": {"field": "counts", "type": "quantitative", "scale": {"domain": [0, 11], "nice": false, "zero": false},
                  "axis": {"orient": "left", "ticks": false, "tickSize": 0, "labels": false, "title": "Counts (a.u.)",
                           "titleFontSize": 22, "titleFontWeight": "bold", "titlePadding": 27}},
            "detail": {"field": "angle", "type": "nominal"}
          }
        },
        {
          "data": {"name": "si_data"},
          "mark": {"type": "line", "color": "black", "strokeWidth": 1},
          "encoding": {
            "x": {"field": "energy", "type": "quantitative", "scale": {"domain": [95, 110], "nice": false, "zero": false},
                  "axis": {"orient": "bottom", "values": [95, 97, 99, 101, 103, 105, 107, 109], "domain": false, "labels": false,
                           "ticks": true, "tickSize": 10, "offset": -5, "title": null}},
            "y": {"field": "counts", "type": "quantitative", "scale": {"domain": [0, 11], "nice": false, "zero": false},
                  "axis": {"orient": "left", "values": [0, 1, 2, 3, 4, 5, 6, 7, 8, 9, 10, 11], "domain": false, "labels": false,
                           "ticks": true, "tickSize": 10, "offset": -5, "title": null}},
            "detail": {"field": "angle", "type": "nominal"}
          }
        },
        {
          "data": {"name": "si_base"},
          "mark": {"type": "rule", "color": "#444444", "strokeWidth": 1, "strokeDash": [5, 3]},
          "encoding": {
            "x": {"field": "start", "type": "quantitative", "scale": {"domain": [95, 110], "nice": false, "zero": false}, "axis": null},
            "x2": {"field": "end"},
            "y": {"field": "counts", "type": "quantitative", "scale": {"domain": [0, 11], "nice": false, "zero": false}, "axis": null}
          }
        },
        {
          "data": {"values": [{"element": "Silicon", "energy": 96.13, "counts": 10.57}]},
          "mark": {"type": "text", "font": "Liberation Serif", "fontSize": 44, "align": "left", "baseline": "alphabetic", "color": "black"},
          "encoding": {
            "x": {"field": "energy", "type": "quantitative", "scale": {"domain": [95, 110], "nice": false, "zero": false}, "axis": null},
            "y": {"field": "counts", "type": "quantitative", "scale": {"domain": [0, 11], "nice": false, "zero": false}, "axis": null},
            "text": {"field": "element"}
          }
        }
      ]
    },
    {
      "width": 316,
      "height": 618,
      "layer": [
        {
          "data": {"name": "sample_layers"},
          "mark": {"type": "rect", "stroke": "black", "strokeWidth": 2},
          "encoding": {
            "x": {"field": "left", "type": "quantitative", "scale": {"domain": [0, 10], "nice": false, "zero": false}, "axis": null},
            "x2": {"field": "right"},
            "y": {"field": "bottom", "type": "quantitative", "scale": {"domain": [0, 11], "nice": false, "zero": false}, "axis": null},
            "y2": {"field": "top"},
            "fill": {"field": "part", "type": "nominal", "scale": {"domain": ["oxide", "silicon", "window"], "range": ["#161616", "#ffffff", "#ffffff"]}, "legend": null}
          }
        },
        {
          "data": {"name": "emission_arrow"},
          "mark": {"type": "line", "color": "black", "strokeWidth": 2.5},
          "encoding": {
            "x": {"field": "px", "type": "quantitative", "scale": {"domain": [0, 10], "nice": false, "zero": false}, "axis": null},
            "y": {"field": "py", "type": "quantitative", "scale": {"domain": [0, 11], "nice": false, "zero": false}, "axis": null},
            "order": {"field": "step"}
          }
        },
        {
          "data": {"values": [{"px": 6.27, "py": 13.96}]},
          "mark": {"type": "point", "shape": "triangle-up", "filled": true, "color": "black", "opacity": 1, "size": 484, "angle": 23.5},
          "encoding": {
            "x": {"field": "px", "type": "quantitative", "scale": {"domain": [0, 10], "nice": false, "zero": false}, "axis": null},
            "y": {"field": "py", "type": "quantitative", "scale": {"domain": [0, 11], "nice": false, "zero": false}, "axis": null}
          }
        },
        {
          "data": {"name": "angle_arc"},
          "mark": {"type": "line", "color": "black", "strokeWidth": 2, "interpolate": "cardinal"},
          "encoding": {
            "x": {"field": "px", "type": "quantitative", "scale": {"domain": [0, 10], "nice": false, "zero": false}, "axis": null},
            "y": {"field": "py", "type": "quantitative", "scale": {"domain": [0, 11], "nice": false, "zero": false}, "axis": null},
            "order": {"field": "step"}
          }
        },
        {
          "data": {"name": "sample_text"},
          "mark": {"type": "text", "font": "Liberation Sans", "align": "center", "baseline": "middle", "color": "black"},
          "encoding": {
            "x": {"field": "px", "type": "quantitative", "scale": {"domain": [0, 10], "nice": false, "zero": false}, "axis": null},
            "y": {"field": "py", "type": "quantitative", "scale": {"domain": [0, 11], "nice": false, "zero": false}, "axis": null},
            "text": {"field": "label"},
            "size": {"field": "size", "type": "quantitative", "scale": null}
          }
        },
        {
          "data": {"name": "takeoff"},
          "mark": {"type": "text", "font": "Liberation Serif", "fontSize": 43, "align": "right", "baseline": "alphabetic", "dx": -1, "color": "black"},
          "encoding": {
            "x": {"field": "pos", "type": "quantitative", "scale": {"domain": [0, 10], "nice": false, "zero": false}, "axis": null},
            "y": {"field": "level", "type": "quantitative", "scale": {"domain": [0, 11], "nice": false, "zero": false}, "axis": null},
            "text": {"field": "angle"}
          }
        },
        {
          "data": {"name": "takeoff"},
          "mark": {"type": "text", "font": "Liberation Serif", "fontSize": 26, "align": "left", "baseline": "alphabetic", "dx": 1, "dy": -14, "color": "black"},
          "encoding": {
            "x": {"field": "pos", "type": "quantitative", "scale": {"domain": [0, 10], "nice": false, "zero": false}, "axis": null},
            "y": {"field": "level", "type": "quantitative", "scale": {"domain": [0, 11], "nice": false, "zero": false}, "axis": null},
            "text": {"value": "o"}
          }
        },
        {
          "data": {"name": "takeoff"},
          "mark": {"type": "text", "font": "Liberation Serif", "fontSize": 46, "align": "left", "baseline": "alphabetic", "dx": 26, "color": "black"},
          "encoding": {
            "x": {"field": "pos", "type": "quantitative", "scale": {"domain": [0, 10], "nice": false, "zero": false}, "axis": null},
            "y": {"field": "level", "type": "quantitative", "scale": {"domain": [0, 11], "nice": false, "zero": false}, "axis": null},
            "text": {"value": "take-off"}
          }
        }
      ]
    },
    {
      "width": 359,
      "height": 618,
      "resolve": {"axis": {"x": "independent", "y": "independent"}},
      "layer": [
        {
          "data": {"name": "o_fit"},
          "mark": {"type": "line", "interpolate": "monotone", "color": "black", "strokeWidth": 2.6},
          "encoding": {
            "x": {"field": "energy", "type": "quantitative", "scale": {"domain": [526, 538], "nice": false, "zero": false},
                  "axis": {"orient": "bottom", "values": [526, 528, 530, 532, 534, 536, 538], "ticks": false, "tickSize": 0,
                           "labelFontSize": 21, "labelPadding": 22, "title": "Binding Energy (eV)", "titleFontSize": 23,
                           "titleFontWeight": "normal", "titlePadding": 20}},
            "y": {"field": "counts", "type": "quantitative", "scale": {"domain": [0, 11.13], "nice": false, "zero": false},
                  "axis": {"orient": "right", "values": [0, 1, 2, 3, 4, 5, 6, 7, 8, 9, 10, 11], "domain": false, "labels": false,
                           "ticks": true, "tickSize": 10, "offset": -5, "title": null}},
            "detail": {"field": "angle", "type": "nominal"}
          }
        },
        {
          "data": {"name": "o_data"},
          "mark": {"type": "line", "color": "black", "strokeWidth": 3},
          "encoding": {
            "x": {"field": "energy", "type": "quantitative", "scale": {"domain": [526, 538], "nice": false, "zero": false},
                  "axis": {"orient": "bottom", "values": [526, 528, 530, 532, 534, 536, 538], "domain": false, "labels": false,
                           "ticks": true, "tickSize": 10, "offset": -5, "title": null}},
            "y": {"field": "counts", "type": "quantitative", "scale": {"domain": [0, 11.13], "nice": false, "zero": false}, "axis": null},
            "detail": {"field": "angle", "type": "nominal"}
          }
        },
        {
          "data": {"values": [{"energy": 538, "low": 0, "high": 11}]},
          "mark": {"type": "rule", "color": "black", "strokeWidth": 1.5},
          "encoding": {
            "x": {"field": "energy", "type": "quantitative", "scale": {"domain": [526, 538], "nice": false, "zero": false}, "axis": null},
            "y": {"field": "low", "type": "quantitative", "scale": {"domain": [0, 11.13], "nice": false, "zero": false}, "axis": null},
            "y2": {"field": "high"}
          }
        },
        {
          "data": {"values": [{"element": "Oxygen", "energy": 526.1, "counts": 10.69}]},
          "mark": {"type": "text", "font": "Liberation Serif", "fontSize": 44, "align": "left", "baseline": "alphabetic", "color": "black"},
          "encoding": {
            "x": {"field": "energy", "type": "quantitative", "scale": {"domain": [526, 538], "nice": false, "zero": false}, "axis": null},
            "y": {"field": "counts", "type": "quantitative", "scale": {"domain": [0, 11.13], "nice": false, "zero": false}, "axis": null},
            "text": {"field": "element"}
          }
        }
      ]
    }
  ]
}
